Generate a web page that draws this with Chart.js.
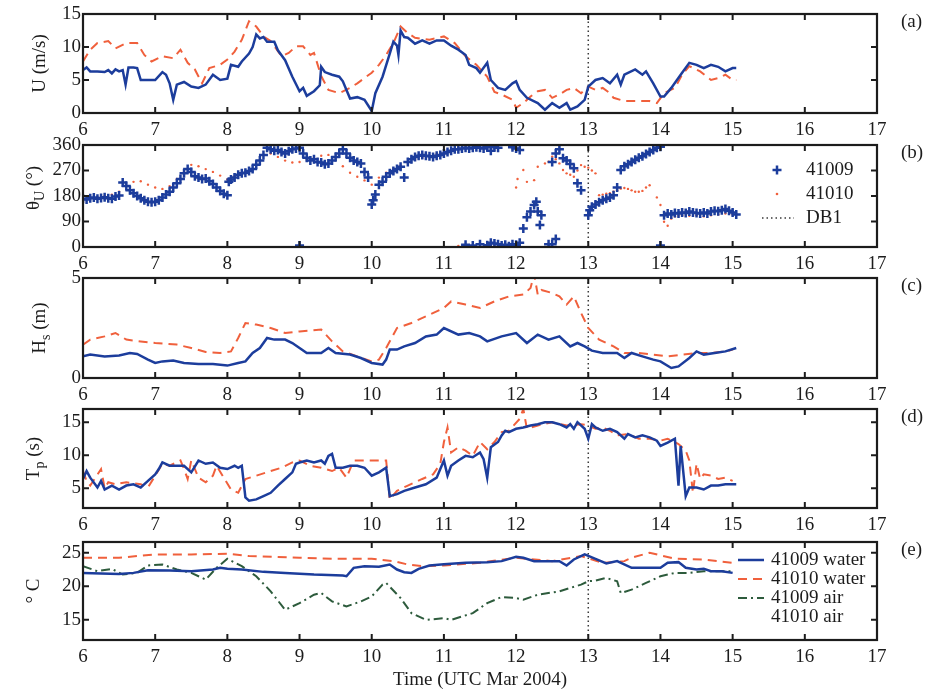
<!DOCTYPE html>
<html>
<head>
<meta charset="utf-8">
<title>Buoy 41009 / 41010, March 2004</title>
<script src="https://cdn.jsdelivr.net/npm/chart.js@4.4.0/dist/chart.umd.min.js"></script>
<style>
  html, body { margin: 0; padding: 0; background: #fff; }
  #wrap { position: relative; width: 928px; height: 692px; }
  #wrap canvas { position: absolute; left: 0; top: 0; }
</style>
</head>
<body>
<div id="wrap">
  <canvas id="panelA" width="928" height="692"></canvas>
  <canvas id="panelB" width="928" height="692"></canvas>
  <canvas id="panelC" width="928" height="692"></canvas>
  <canvas id="panelD" width="928" height="692"></canvas>
  <canvas id="panelE" width="928" height="692"></canvas>
</div>
<script>
// ---- shared axis values ----
const dayTicks = [6, 7, 8, 9, 10, 11, 12, 13, 14, 15, 16, 17];
const db1Day = 13;

// ---- (a) wind speed U (m/s) ----
const uDay09 = [
  6.00, 6.05, 6.10, 6.20, 6.30, 6.35, 6.40, 6.45, 6.50, 6.55,
  6.59, 6.63, 6.70, 6.75, 6.80, 6.90, 7.00, 7.10, 7.15, 7.20,
  7.25, 7.30, 7.40, 7.50, 7.60, 7.70, 7.80, 7.90, 8.00, 8.05,
  8.15, 8.20, 8.30, 8.35, 8.40, 8.45, 8.50, 8.55, 8.65, 8.70,
  8.80, 8.90, 9.00, 9.05, 9.10, 9.20, 9.28, 9.30, 9.35, 9.45,
  9.55, 9.60, 9.65, 9.70, 9.80, 9.90, 10.00, 10.05, 10.15, 10.25,
  10.30, 10.35, 10.37, 10.40, 10.45, 10.50, 10.60, 10.70, 10.80, 10.90,
  11.00, 11.10, 11.20, 11.30, 11.35, 11.45, 11.50, 11.60, 11.65, 11.75,
  11.85, 11.95, 12.00, 12.05, 12.15, 12.30, 12.40, 12.50, 12.60, 12.70,
  12.75, 12.85, 12.95, 13.00, 13.10, 13.20, 13.30, 13.40, 13.45, 13.50,
  13.65, 13.75, 13.80, 13.90, 14.00, 14.05, 14.15, 14.30, 14.40, 14.50,
  14.60, 14.70, 14.80, 14.90, 15.00, 15.05
];
const u09 = [
  6.5, 6.9, 6.3, 6.3, 6.2, 6.5, 6.0, 6.6, 6.3, 6.5,
  4.3, 6.9, 6.9, 6.8, 5.0, 5.0, 5.0, 6.2, 5.8, 4.5,
  2.0, 4.3, 4.7, 4.0, 3.8, 4.3, 5.8, 5.0, 5.2, 7.3,
  7.0, 7.8, 9.0, 10.0, 11.9, 11.3, 11.5, 10.8, 10.8, 9.5,
  8.0, 5.5, 3.3, 3.8, 2.6, 3.3, 4.2, 7.0, 6.2, 5.8,
  5.5, 4.8, 3.5, 2.2, 2.4, 2.0, 0.3, 3.0, 5.5, 9.0,
  10.8, 10.2, 8.8, 12.5, 11.5, 11.4, 10.5, 11.0, 10.5, 11.0,
  11.0, 10.2, 9.6, 8.8, 7.3, 6.8, 6.1, 7.6, 5.0, 3.8,
  3.5, 4.5, 4.8, 3.5, 2.3, 1.5, 0.5, 1.5, 0.8, 1.5,
  0.5, 1.0, 2.0, 4.0, 5.0, 5.3, 4.5, 5.8, 4.3, 5.8,
  6.6, 5.8, 6.3, 4.5, 2.5, 2.5, 3.8, 6.1, 7.6, 7.3,
  6.8, 7.3, 7.0, 6.3, 6.8, 6.8
];
const uDay10 = [
  6.00, 6.10, 6.20, 6.35, 6.45, 6.60, 6.75, 6.85, 6.95, 7.10,
  7.25, 7.35, 7.45, 7.55, 7.65, 7.75, 7.90, 8.00, 8.10, 8.20,
  8.30, 8.40, 8.50, 8.60, 8.75, 8.85, 8.95, 9.05, 9.15, 9.20,
  9.30, 9.40, 9.55, 9.70, 9.80, 9.90, 10.00, 10.10, 10.20, 10.30,
  10.40, 10.50, 10.60, 10.80, 11.00, 11.15, 11.30, 11.45, 11.60, 11.70,
  11.80, 11.95, 12.00, 12.10, 12.20, 12.30, 12.40, 12.50, 12.60, 12.70,
  12.80, 12.90, 13.00, 13.10, 13.20, 13.30, 13.35, 13.50, 13.70, 13.85,
  13.95, 14.05, 14.20, 14.30, 14.40, 14.55, 14.70, 14.80, 14.90, 15.00,
  15.05
];
const u10 = [
  7.8, 9.6, 10.6, 10.9, 9.8, 10.6, 10.6, 8.8, 7.8, 8.6,
  8.3, 9.6, 7.6, 6.6, 4.5, 6.8, 7.3, 8.1, 9.3, 11.1,
  13.9, 13.1, 11.6, 10.9, 8.6, 9.1, 10.1, 10.1, 8.8, 9.1,
  5.6, 3.5, 3.0, 3.8, 4.5, 5.3, 6.1, 7.3, 8.8, 10.6,
  13.1, 12.1, 11.4, 11.1, 11.6, 10.6, 8.6, 7.3, 5.5, 3.2,
  2.8, 2.0, 0.8, 1.5, 2.5, 3.3, 3.5, 2.3, 2.8, 3.5,
  3.8, 3.0, 4.0, 3.5, 3.8, 3.0, 2.3, 1.8, 1.8, 1.8,
  1.5, 3.0, 3.8, 5.8, 7.1, 6.3, 5.0, 5.3, 5.8, 5.0,
  5.0
];

// ---- (b) wind direction theta_U (deg) ----
const dirDay09 = [
  6.00, 6.05, 6.10, 6.15, 6.20, 6.25, 6.30, 6.35, 6.40, 6.45,
  6.50, 6.55, 6.60, 6.65, 6.70, 6.75, 6.80, 6.85, 6.90, 6.95,
  7.00, 7.05, 7.10, 7.15, 7.20, 7.25, 7.30, 7.35, 7.40, 7.45,
  7.50, 7.55, 7.60, 7.65, 7.70, 7.75, 7.80, 7.85, 7.90, 7.95,
  8.00, 8.02, 8.05, 8.10, 8.15, 8.20, 8.25, 8.30, 8.35, 8.40,
  8.45, 8.50, 8.55, 8.60, 8.65, 8.70, 8.75, 8.80, 8.85, 8.90,
  8.95, 9.00, 9.00, 9.05, 9.10, 9.15, 9.20, 9.25, 9.30, 9.35,
  9.40, 9.45, 9.50, 9.55, 9.60, 9.65, 9.70, 9.75, 9.80, 9.85,
  9.90, 9.95, 10.00, 10.02, 10.05, 10.10, 10.15, 10.20, 10.25, 10.30,
  10.35, 10.40, 10.45, 10.50, 10.55, 10.60, 10.65, 10.70, 10.75, 10.80,
  10.85, 10.90, 10.95, 11.00, 11.05, 11.10, 11.15, 11.20, 11.25, 11.30,
  11.35, 11.40, 11.45, 11.50, 11.55, 11.60, 11.65, 11.70, 11.75, 11.95,
  12.00, 12.05, 11.30, 11.40, 11.50, 11.60, 11.65, 11.70, 11.75, 11.80,
  11.85, 11.90, 11.95, 12.00, 12.05, 12.10, 12.15, 12.20, 12.25, 12.28,
  12.30, 12.33, 12.35, 12.45, 12.50, 12.55, 12.50, 12.55, 12.60, 12.65,
  12.70, 12.75, 12.80, 12.85, 12.90, 13.00, 13.02, 13.05, 13.10, 13.15,
  13.20, 13.25, 13.30, 13.35, 13.40, 13.45, 13.50, 13.55, 13.60, 13.65,
  13.70, 13.75, 13.80, 13.85, 13.90, 13.95, 14.00, 14.00, 14.05, 14.10,
  14.15, 14.20, 14.25, 14.30, 14.35, 14.40, 14.45, 14.50, 14.55, 14.60,
  14.65, 14.70, 14.75, 14.80, 14.85, 14.90, 14.95, 15.00, 15.05
];
const dir09 = [
  170, 168, 172, 175, 170, 173, 176, 172, 170, 178,
  182, 228, 215, 200, 190, 180, 172, 165, 160, 158,
  160, 165, 175, 185, 195, 210, 225, 240, 260, 275,
  265, 250, 245, 240, 242, 232, 222, 210, 198, 188,
  183, 230, 238, 245, 255, 260, 262, 268, 275, 290,
  305, 325, 350, 345, 340, 342, 335, 330, 338, 345,
  348, 350, 5, 330, 315, 305, 310, 300, 298, 292,
  295, 305, 318, 330, 345, 330, 315, 305, 300, 295,
  265, 245, 150, 165, 185, 220, 230, 248, 260, 268,
  275, 283, 245, 300, 310, 318, 322, 325, 322, 320,
  318, 322, 325, 330, 335, 340, 345, 345, 348, 350,
  348, 350, 352, 350, 348, 352, 340, 352, 350, 352,
  348, 342, 8, 5, 10, 6, 15, 12, 10, 5,
  8, 3, 10, 8, 15, 65, 105, 125, 148, 160,
  125, 78, 112, 10, 10, 28, 300, 330, 345, 313,
  305, 293, 278, 225, 200, 112, 130, 142, 150, 158,
  165, 170, 175, 183, 210, 272, 285, 292, 300, 308,
  315, 320, 328, 335, 342, 350, 354, 5, 112, 118,
  115, 120, 118, 122, 120, 125, 122, 120, 118, 122,
  118, 125, 128, 126, 130, 134, 128, 122, 115
];
const dirDay10 = [
  6.0, 6.1, 6.2, 6.3, 6.4, 6.5, 6.6, 6.7, 6.8, 6.9,
  7.0, 7.1, 7.2, 7.3, 7.4, 7.5, 7.6, 7.7, 7.8, 7.9,
  8.0, 8.1, 8.2, 8.3, 8.4, 8.5, 8.6, 8.7, 8.8, 8.9,
  9.0, 9.1, 9.2, 9.3, 9.4, 9.5, 9.6, 9.7, 9.8, 9.9,
  10.0, 10.1, 10.2, 10.3, 10.4, 10.5, 10.6, 10.7, 10.8, 10.9,
  11.0, 11.1, 11.2, 11.3, 11.4, 11.5, 11.6, 11.2, 11.3, 11.4,
  11.5, 11.6, 11.7, 11.8, 11.9, 12.0, 12.02, 12.1, 12.15, 12.25,
  12.3, 12.4, 12.45, 12.5, 12.55, 12.6, 12.65, 12.7, 12.75, 12.8,
  12.85, 12.9, 12.95, 13.0, 13.05, 13.1, 13.15, 13.2, 13.25, 13.3,
  13.35, 13.4, 13.45, 13.5, 13.55, 13.6, 13.65, 13.7, 13.75, 13.8,
  13.85, 13.95, 14.0, 14.05, 14.1, 14.15, 14.2, 14.25, 14.3, 14.4,
  14.5, 14.6, 14.7, 14.8, 14.9, 15.0
];
const dir10 = [
  160, 170, 175, 180, 185, 195, 215, 230, 232, 220,
  210, 205, 215, 240, 265, 290, 285, 275, 265, 252,
  238, 250, 258, 268, 290, 325, 330, 318, 305, 298,
  300, 308, 315, 322, 325, 315, 285, 262, 248, 235,
  220, 245, 262, 275, 288, 298, 308, 315, 322, 328,
  335, 342, 348, 352, 350, 353, 352, 4, 2, 6,
  3, 5, 8, 4, 6, 210, 240, 272, 230, 236,
  283, 295, 301, 319, 310, 295, 272, 260, 255, 248,
  270, 289, 283, 280, 270, 260, 183, 185, 188, 190,
  195, 200, 206, 208, 205, 200, 195, 195, 198, 210,
  218, 175, 148, 89, 75, 100, 108, 110, 112, 110,
  112, 108, 112, 115, 118, 115
];

// ---- (c) significant wave height Hs (m) ----
const hsDay09 = [
  6.0, 6.1, 6.3, 6.5, 6.65, 6.75, 6.9, 7.0, 7.1, 7.25,
  7.4, 7.6, 7.8, 8.0, 8.15, 8.25, 8.35, 8.45, 8.55, 8.65,
  8.8, 8.9, 9.0, 9.1, 9.3, 9.4, 9.5, 9.7, 9.85, 10.0,
  10.15, 10.2, 10.25, 10.35, 10.45, 10.6, 10.75, 10.9, 11.0, 11.2,
  11.35, 11.5, 11.6, 11.8, 12.0, 12.15, 12.3, 12.45, 12.6, 12.75,
  12.85, 12.95, 13.05, 13.2, 13.4, 13.5, 13.6, 13.75, 13.9, 14.0,
  14.15, 14.25, 14.4, 14.5, 14.6, 14.75, 14.9, 15.05
];
const hs09 = [
  1.08, 1.17, 1.08, 1.13, 1.25, 1.2, 0.92, 0.75, 0.83, 0.87,
  0.75, 0.7, 0.7, 0.62, 0.75, 0.83, 1.25, 1.5, 2.0, 1.92,
  1.92, 1.75, 1.5, 1.25, 1.25, 1.5, 1.25, 1.17, 1.0, 0.75,
  0.67, 0.92, 1.42, 1.42, 1.58, 1.75, 2.08, 2.17, 2.5, 2.17,
  2.25, 2.08, 1.83, 2.08, 2.25, 1.75, 2.17, 1.92, 2.08, 1.58,
  1.75, 1.58, 1.37, 1.25, 1.25, 1.0, 1.25, 1.08, 0.92, 0.83,
  0.5, 0.58, 1.0, 1.33, 1.17, 1.25, 1.33, 1.5
];
const hsDay10 = [
  6.0, 6.1, 6.3, 6.45, 6.6, 6.8, 7.0, 7.3, 7.5, 7.7,
  7.9, 8.05, 8.15, 8.25, 8.4, 8.6, 8.8, 9.0, 9.3, 9.45,
  9.6, 9.8, 10.0, 10.1, 10.2, 10.35, 10.55, 10.75, 11.0, 11.1,
  11.3, 11.5, 11.7, 11.9, 12.1, 12.2, 12.25, 12.3, 12.35, 12.5,
  12.6, 12.7, 12.8, 12.9, 13.0, 13.15, 13.35, 13.5, 13.7, 13.9,
  14.1, 14.3, 14.5, 14.7, 14.9, 15.0
];
const hs10 = [
  1.67, 1.92, 2.08, 2.25, 1.92, 1.83, 1.75, 1.67, 1.5, 1.3,
  1.25, 1.33, 2.0, 2.75, 2.67, 2.5, 2.25, 2.33, 2.42, 1.83,
  1.33, 1.08, 0.83, 0.92, 1.5, 2.5, 2.75, 3.08, 3.5, 3.83,
  3.67, 3.5, 3.83, 4.08, 4.17, 4.5, 5.2, 4.17, 4.4, 4.25,
  4.08, 3.67, 4.08, 3.25, 2.5, 1.92, 1.58, 1.25, 1.25, 1.17,
  1.08, 1.17, 1.25, 1.25, 1.33, 1.42
];

// ---- (d) peak period Tp (s) ----
const tpDay09 = [
  6.0, 6.05, 6.1, 6.2, 6.25, 6.3, 6.4, 6.5, 6.6, 6.7,
  6.8, 6.9, 7.0, 7.05, 7.1, 7.2, 7.3, 7.4, 7.5, 7.6,
  7.7, 7.8, 7.9, 8.0, 8.1, 8.15, 8.2, 8.25, 8.3, 8.4,
  8.5, 8.6, 8.7, 8.8, 8.9, 8.95, 9.0, 9.1, 9.2, 9.3,
  9.35, 9.4, 9.45, 9.5, 9.6, 9.7, 9.8, 9.9, 10.0, 10.1,
  10.2, 10.25, 10.35, 10.45, 10.6, 10.75, 10.9, 10.95, 11.0, 11.05,
  11.1, 11.2, 11.3, 11.4, 11.5, 11.55, 11.6, 11.65, 11.75, 11.8,
  11.85, 11.9, 12.0, 12.1, 12.2, 12.3, 12.4, 12.5, 12.6, 12.7,
  12.75, 12.8, 12.85, 12.95, 13.0, 13.05, 13.1, 13.2, 13.3, 13.4,
  13.5, 13.55, 13.65, 13.75, 13.85, 13.95, 14.0, 14.1, 14.2, 14.25,
  14.28, 14.35, 14.4, 14.5, 14.6, 14.7, 14.8, 14.9, 15.05
];
const tp09 = [
  6.4, 7.6, 6.6, 5.1, 6.1, 4.8, 5.4, 4.8, 5.4, 5.6,
  5.1, 6.1, 7.1, 7.9, 8.9, 8.4, 8.4, 8.4, 7.4, 9.2,
  8.7, 8.9, 8.1, 7.9, 8.4, 8.1, 8.4, 3.6, 3.1, 3.3,
  3.8, 4.3, 5.4, 6.4, 7.4, 8.7, 8.9, 9.2, 8.9, 9.2,
  8.7, 9.9, 10.2, 8.1, 8.1, 8.4, 8.4, 8.1, 6.9, 7.4,
  8.1, 3.8, 4.1, 4.6, 5.1, 5.6, 6.6, 7.9, 9.2, 6.9,
  8.4, 9.2, 9.9, 9.7, 10.4, 9.4, 6.6, 11.2, 12.0, 13.0,
  13.7, 13.5, 14.0, 14.2, 14.5, 14.7, 15.0, 15.0, 14.7, 14.2,
  14.7, 14.0, 15.0, 14.0, 12.5, 14.7, 14.2, 13.7, 14.0, 13.5,
  12.5, 13.2, 12.7, 13.0, 12.7, 12.2, 11.4, 11.9, 12.5, 5.4,
  11.4, 3.8, 5.1, 5.1, 4.8, 5.4, 5.4, 5.6, 5.6
];
const tpDay10 = [
  6.0, 6.05, 6.1, 6.25, 6.3, 6.35, 6.45, 6.6, 6.8, 6.9,
  7.0, 7.1, 7.2, 7.35, 7.4, 7.45, 7.5, 7.6, 7.7, 7.8,
  7.85, 7.95, 8.05, 8.15, 8.25, 8.4, 8.6, 8.75, 8.9, 9.0,
  9.15, 9.3, 9.45, 9.55, 9.65, 9.75, 9.9, 10.1, 10.2, 10.25,
  10.35, 10.5, 10.7, 10.85, 10.95, 11.0, 11.05, 11.1, 11.2, 11.3,
  11.4, 11.5, 11.6, 11.7, 11.8, 11.9, 12.05, 12.1, 12.15, 12.3,
  12.5, 12.7, 12.9, 13.0, 13.1, 13.2, 13.3, 13.4, 13.55, 13.7,
  13.85, 14.0, 14.1, 14.25, 14.35, 14.4, 14.45, 14.5, 14.55, 14.6,
  14.7, 14.8, 14.9, 15.0
];
const tp10 = [
  7.6, 6.1, 5.4, 7.9, 5.0, 5.9, 5.6, 5.9, 5.6, 5.1,
  6.9, 8.7, 8.4, 9.2, 7.9, 6.4, 9.2, 6.6, 5.9, 6.9,
  8.4, 6.6, 4.8, 4.3, 6.4, 6.9, 7.6, 8.1, 8.9, 9.2,
  8.4, 8.1, 7.6, 8.1, 6.6, 9.2, 9.2, 9.2, 9.2, 3.3,
  4.6, 5.4, 6.4, 7.1, 8.7, 12.0, 14.2, 10.4, 11.2, 10.7,
  9.9, 12.0, 10.9, 12.0, 13.5, 13.7, 15.5, 17.0, 14.0, 14.5,
  15.0, 14.5, 14.7, 14.5, 14.0, 14.2, 13.7, 13.0, 13.2, 12.5,
  12.5, 12.2, 12.5, 11.7, 10.7, 9.2, 4.3, 8.7, 6.4, 7.1,
  6.9, 6.4, 6.6, 6.1
];

// ---- (e) water and air temperature (deg C) ----
const twDay09 = [
  6.0, 6.5, 6.7, 6.9, 7.2, 7.5, 7.8, 7.9, 8.0, 8.2,
  8.5, 8.8, 9.2, 9.6, 9.65, 9.75, 9.9, 10.1, 10.25, 10.35,
  10.45, 10.55, 10.65, 10.8, 11.0, 11.3, 11.6, 11.8, 12.0, 12.1,
  12.25, 12.45, 12.6, 12.7, 12.8, 12.95, 13.1, 13.25, 13.4, 13.6,
  13.8, 14.0, 14.1, 14.25, 14.35, 14.5, 14.6, 14.7, 14.85, 15.0
];
const tw09 = [
  22, 21.85, 22, 22.4, 22.35, 22.25, 22.5, 22.75, 22.6, 22.5,
  22.15, 22, 21.75, 21.6, 21.5, 22.75, 23, 22.9, 23.25, 22.5,
  22.1, 22, 22.6, 23.1, 23.3, 23.5, 23.6, 23.75, 24.4, 24.25,
  23.75, 23.75, 23.75, 23.1, 24, 24.75, 24.1, 23.4, 23.75, 22.75,
  22.75, 22.75, 23.5, 23.6, 22.75, 22.5, 22.6, 22.25, 22.25, 22
];
const twDay10 = [
  6.0, 6.5, 7.0, 7.5, 8.0, 8.3, 9.0, 9.5, 10.0, 10.3,
  10.5, 10.7, 11.0, 11.5, 12.0, 12.5, 12.9, 13.2, 13.5, 13.6,
  13.85, 14.2, 14.6, 15.0
];
const tw10 = [
  24.25, 24.25, 24.75, 24.75, 24.85, 24.5, 24.25, 24.1, 24.1, 23.75,
  23.25, 23, 23.1, 23.5, 24.25, 23.75, 24.5, 23.5, 23.75, 24.25,
  25, 24.1, 24, 23.5
];
const taDay09 = [
  6.0, 6.2, 6.4, 6.55, 6.75, 6.9, 7.1, 7.3, 7.5, 7.7,
  7.85, 8.0, 8.2, 8.4, 8.6, 8.8, 9.0, 9.2, 9.3, 9.45,
  9.65, 9.85, 10.0, 10.15, 10.2, 10.4, 10.55, 10.75, 11.0, 11.1,
  11.4, 11.6, 11.8, 12.0, 12.1, 12.3, 12.6, 12.9, 13.0, 13.1,
  13.25, 13.4, 13.45, 13.6, 13.8, 14.0, 14.2, 14.4, 14.6, 14.8,
  15.0
];
const ta09 = [
  23, 22.25, 22.6, 21.75, 22, 23.1, 23.25, 22.5, 22, 21,
  22.75, 24.1, 23, 21.5, 19.25, 16.5, 17.5, 18.75, 19, 17.75,
  17, 17.75, 18.5, 20.25, 20.5, 18.25, 16, 15, 15.25, 15,
  16, 17.5, 18.4, 18.25, 18, 18.75, 19.25, 20.25, 20.75, 20.85,
  21.25, 20.75, 19, 19.5, 20.5, 21.5, 22, 22, 22.25, 22.25,
  22.25
];
const taDay10 = [];
const ta10 = [];

// ---- styling ----
const FONT = '"Liberation Serif", "Times New Roman", serif';
const INK = '#1c1c1c';
const BLUE = '#1c3d9c';
const RED = '#f0603c';
const GREEN = '#2d5b3c';
const DASH_10 = [9, 6];
const DASH_AIR = [9, 4, 2, 4];
const DOTS = [1.5, 3];

const font = (size) => `${size}px ${FONT}`;
const pts = (days, vals) => days.map((d, i) => ({ x: d, y: vals[i] }));

function lineSet(label, days, vals, color, width, dash) {
  return {
    label, data: pts(days, vals), showLine: true, tension: 0,
    borderColor: color, borderWidth: width, borderDash: dash || [],
    pointRadius: 0, fill: false
  };
}

function db1Set(min, max) {
  return {
    label: 'DB1', data: [{ x: db1Day, y: min }, { x: db1Day, y: max }],
    showLine: true, borderColor: '#3a3a3a', borderWidth: 1.5, borderDash: DOTS, pointRadius: 0
  };
}

// frame, inward ticks, y label, panel letter and legend
function decor(p) {
  return {
    id: 'panelDecor',
    afterDatasetsDraw(chart) {
      const { ctx, chartArea: a, scales: { x, y } } = chart;
      ctx.save();
      ctx.strokeStyle = INK;
      ctx.lineWidth = 2;
      ctx.beginPath();
      x.ticks.forEach(t => {
        const px = x.getPixelForValue(t.value);
        ctx.moveTo(px, a.bottom); ctx.lineTo(px, a.bottom - 6);
        ctx.moveTo(px, a.top); ctx.lineTo(px, a.top + 6);
      });
      y.ticks.forEach(t => {
        const py = y.getPixelForValue(t.value);
        ctx.moveTo(a.left, py); ctx.lineTo(a.left + 6, py);
        ctx.moveTo(a.right, py); ctx.lineTo(a.right - 6, py);
      });
      ctx.stroke();
      ctx.lineWidth = 2.2;
      ctx.strokeRect(a.left, a.top, a.right - a.left, a.bottom - a.top);

      ctx.fillStyle = INK;
      ctx.textBaseline = 'middle';
      ctx.textAlign = 'left';
      ctx.font = font(19);
      ctx.fillText(p.letter, 901, a.top + 8);

      // rotated y label with optional subscript
      ctx.save();
      ctx.translate(p.titleX, (a.top + a.bottom) / 2 + (p.titleShift || 0));
      ctx.rotate(-Math.PI / 2);
      let total = 0;
      p.title.forEach(part => {
        ctx.font = font(part.sub ? 14 : 19);
        total += ctx.measureText(part.text).width;
      });
      let tx = -total / 2;
      p.title.forEach(part => {
        ctx.font = font(part.sub ? 14 : 19);
        ctx.fillText(part.text, tx, part.sub ? 6 : 0);
        tx += ctx.measureText(part.text).width;
      });
      ctx.restore();

      if (p.legend) {
        const L = p.legend;
        ctx.font = font(19);
        L.rows.forEach(r => {
          ctx.save();
          if (r.kind === 'line') {
            ctx.strokeStyle = r.color;
            ctx.lineWidth = r.width;
            ctx.setLineDash(r.dash || []);
            ctx.beginPath();
            ctx.moveTo(L.lineFrom, r.y); ctx.lineTo(L.lineTo, r.y);
            ctx.stroke();
          } else if (r.kind === 'cross') {
            ctx.strokeStyle = r.color;
            ctx.lineWidth = 2.5;
            ctx.beginPath();
            ctx.moveTo(L.mark - 4.5, r.y); ctx.lineTo(L.mark + 4.5, r.y);
            ctx.moveTo(L.mark, r.y - 4.5); ctx.lineTo(L.mark, r.y + 4.5);
            ctx.stroke();
          } else if (r.kind === 'dot') {
            ctx.fillStyle = r.color;
            ctx.beginPath();
            ctx.arc(L.mark, r.y, 1.3, 0, Math.PI * 2);
            ctx.fill();
          }
          ctx.restore();
          ctx.fillStyle = INK;
          ctx.fillText(r.label, L.textX, r.y);
        });
      }

      if (p.xTitle) {
        ctx.textAlign = 'center';
        ctx.font = font(19);
        ctx.fillText(p.xTitle, (a.left + a.right) / 2, 680);
      }
      ctx.restore();
    }
  };
}

function makePanel(id, p, datasets) {
  return new Chart(document.getElementById(id), {
    type: 'scatter',
    data: { datasets },
    options: {
      responsive: false,
      animation: false,
      events: [],
      layout: { padding: { top: p.top, right: 51, left: 0, bottom: 0 } },
      plugins: { legend: { display: false }, tooltip: { enabled: false } },
      scales: {
        x: {
          type: 'linear', min: 6, max: 17,
          grid: { display: false, drawTicks: false }, border: { display: false },
          afterBuildTicks: s => { s.ticks = dayTicks.map(v => ({ value: v })); },
          afterFit: s => { s.height = 692 - p.bottom; },
          ticks: { padding: 6, color: INK, font: { family: FONT, size: 19 }, maxRotation: 0, autoSkip: false }
        },
        y: {
          type: 'linear', min: p.min, max: p.max,
          grid: { display: false, drawTicks: false }, border: { display: false },
          afterBuildTicks: s => { s.ticks = p.ticks.map(v => ({ value: v })); },
          afterFit: s => { s.width = 83; },
          ticks: { padding: 2, color: INK, font: { family: FONT, size: 19 }, autoSkip: false }
        }
      }
    },
    plugins: [decor(p)]
  });
}

// (a) wind speed
makePanel('panelA', {
  top: 14, bottom: 113, min: 0, max: 15, ticks: [0, 5, 10, 15],
  letter: '(a)', titleX: 40, title: [{ text: 'U (m/s)' }]
}, [
  lineSet('41009', uDay09, u09, BLUE, 2.5),
  lineSet('41010', uDay10, u10, RED, 2, DASH_10),
  db1Set(0, 15)
]);

// (b) wind direction
makePanel('panelB', {
  top: 145, bottom: 247, min: 0, max: 360, ticks: [0, 90, 180, 270, 360],
  letter: '(b)', titleX: 34, titleShift: -8,
  title: [{ text: 'θ' }, { text: 'U', sub: true }, { text: ' (°)' }],
  legend: {
    mark: 777, lineFrom: 762, lineTo: 794, textX: 806,
    rows: [
      { kind: 'cross', color: BLUE, label: '41009', y: 170 },
      { kind: 'dot', color: RED, label: '41010', y: 194 },
      { kind: 'line', color: '#3a3a3a', width: 1.5, dash: DOTS, label: 'DB1', y: 218 }
    ]
  }
}, [
  {
    label: '41009', data: pts(dirDay09, dir09), showLine: false,
    pointStyle: 'cross', pointRadius: 4.5, borderColor: BLUE, borderWidth: 2.5
  },
  {
    label: '41010', data: pts(dirDay10, dir10), showLine: false,
    pointStyle: 'circle', pointRadius: 1.2, borderWidth: 0, backgroundColor: RED
  },
  db1Set(0, 360)
]);

// (c) significant wave height
makePanel('panelC', {
  top: 278, bottom: 378, min: 0, max: 5, ticks: [0, 5],
  letter: '(c)', titleX: 40,
  title: [{ text: 'H' }, { text: 's', sub: true }, { text: ' (m)' }]
}, [
  lineSet('41009', hsDay09, hs09, BLUE, 2.5),
  lineSet('41010', hsDay10, hs10, RED, 2, DASH_10),
  db1Set(0, 5)
]);

// (d) peak period
makePanel('panelD', {
  top: 409, bottom: 508, min: 2, max: 17, ticks: [5, 10, 15],
  letter: '(d)', titleX: 34,
  title: [{ text: 'T' }, { text: 'p', sub: true }, { text: ' (s)' }]
}, [
  lineSet('41009', tpDay09, tp09, BLUE, 2.5),
  lineSet('41010', tpDay10, tp10, RED, 2, DASH_10),
  db1Set(2, 17)
]);

// (e) temperatures
makePanel('panelE', {
  top: 542, bottom: 640, min: 12, max: 26.6, ticks: [15, 20, 25],
  letter: '(e)', titleX: 34, title: [{ text: '° C' }],
  xTitle: 'Time (UTC Mar 2004)',
  legend: {
    mark: 750, lineFrom: 738, lineTo: 764, textX: 771,
    rows: [
      { kind: 'line', color: BLUE, width: 2.5, label: '41009 water', y: 560 },
      { kind: 'line', color: RED, width: 2, dash: DASH_10, label: '41010 water', y: 579 },
      { kind: 'line', color: GREEN, width: 2, dash: DASH_AIR, label: '41009 air', y: 598 },
      { kind: 'none', label: '41010 air', y: 617 }
    ]
  }
}, [
  lineSet('41009 water', twDay09, tw09, BLUE, 2.5),
  lineSet('41010 water', twDay10, tw10, RED, 2, DASH_10),
  lineSet('41009 air', taDay09, ta09, GREEN, 2, DASH_AIR),
  lineSet('41010 air', taDay10, ta10, '#7a5a9a', 2),
  db1Set(12, 26.6)
]);
</script>
</body>
</html>
